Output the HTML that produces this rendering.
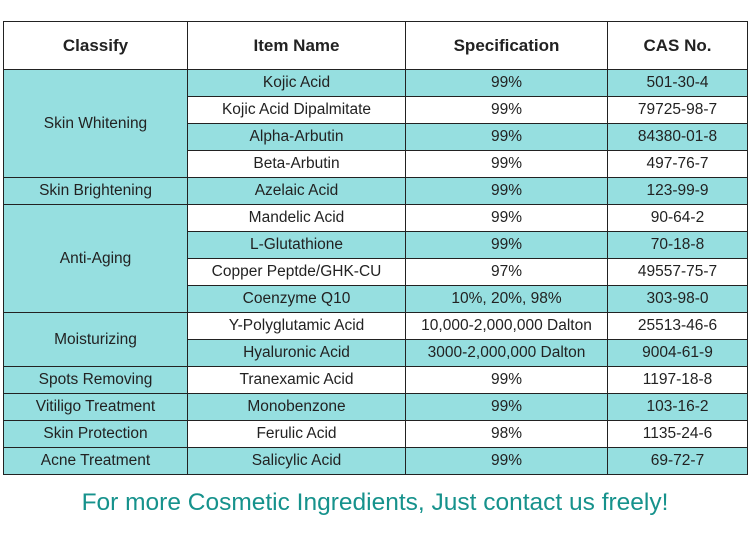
<!DOCTYPE html>
<html><head><style>
body{margin:0;width:750px;height:538px;background:#fff;font-family:"Liberation Sans",sans-serif;position:relative;overflow:hidden}
table{position:absolute;left:3px;top:21px;border-collapse:collapse;table-layout:fixed;width:744px}
td,th{border:1.5px solid #222;text-align:center;padding:0;font-size:15.5px;color:#222;white-space:nowrap;overflow:hidden}
th{height:47px;font-size:17px;font-weight:bold;background:#fff}
tr.r{height:27px}
.t{background:#96dfe0}
.f{position:absolute;left:0;width:750px;top:489px;text-align:center;color:#16928c;font-size:24.5px}
</style></head><body>
<table>
<colgroup><col style="width:184px"><col style="width:218px"><col style="width:202px"><col style="width:140px"></colgroup>
<tr><th>Classify</th><th>Item Name</th><th>Specification</th><th>CAS No.</th></tr>
<tr class="r"><td class="t" rowspan="4">Skin Whitening</td><td class="t">Kojic Acid</td><td class="t">99%</td><td class="t">501-30-4</td></tr>
<tr class="r"><td>Kojic Acid Dipalmitate</td><td>99%</td><td>79725-98-7</td></tr>
<tr class="r"><td class="t">Alpha-Arbutin</td><td class="t">99%</td><td class="t">84380-01-8</td></tr>
<tr class="r"><td>Beta-Arbutin</td><td>99%</td><td>497-76-7</td></tr>
<tr class="r"><td class="t">Skin Brightening</td><td class="t">Azelaic Acid</td><td class="t">99%</td><td class="t">123-99-9</td></tr>
<tr class="r"><td class="t" rowspan="4">Anti-Aging</td><td>Mandelic Acid</td><td>99%</td><td>90-64-2</td></tr>
<tr class="r"><td class="t">L-Glutathione</td><td class="t">99%</td><td class="t">70-18-8</td></tr>
<tr class="r"><td>Copper Peptde/GHK-CU</td><td>97%</td><td>49557-75-7</td></tr>
<tr class="r"><td class="t">Coenzyme Q10</td><td class="t">10%, 20%, 98%</td><td class="t">303-98-0</td></tr>
<tr class="r"><td class="t" rowspan="2">Moisturizing</td><td>Y-Polyglutamic Acid</td><td>10,000-2,000,000 Dalton</td><td>25513-46-6</td></tr>
<tr class="r"><td class="t">Hyaluronic Acid</td><td class="t">3000-2,000,000 Dalton</td><td class="t">9004-61-9</td></tr>
<tr class="r"><td class="t">Spots Removing</td><td>Tranexamic Acid</td><td>99%</td><td>1197-18-8</td></tr>
<tr class="r"><td class="t">Vitiligo Treatment</td><td class="t">Monobenzone</td><td class="t">99%</td><td class="t">103-16-2</td></tr>
<tr class="r"><td class="t">Skin Protection</td><td>Ferulic Acid</td><td>98%</td><td>1135-24-6</td></tr>
<tr class="r"><td class="t">Acne Treatment</td><td class="t">Salicylic Acid</td><td class="t">99%</td><td class="t">69-72-7</td></tr>
</table>
<div class="f">For more Cosmetic Ingredients, Just contact us freely!</div>
</body></html>
